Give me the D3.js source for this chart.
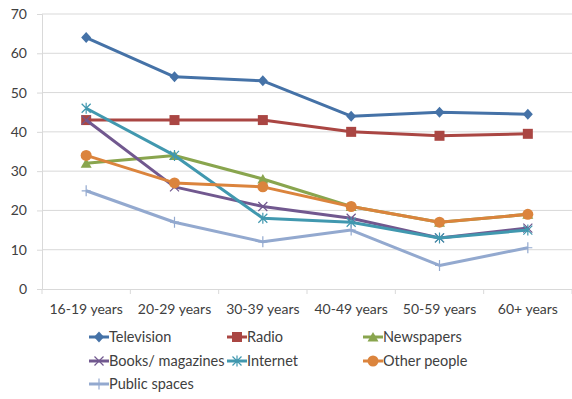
<!DOCTYPE html>
<html><head><meta charset="utf-8">
<script src="https://cdn.jsdelivr.net/npm/d3@7"></script>
<style>body{margin:0;background:#fff}svg{display:block}text{font-family:Lato,"Open Sans",sans-serif;fill:#404040}</style>
</head><body><svg id="c" width="572" height="399"></svg>
<script>
const categories = ["16-19 years","20-29 years","30-39 years","40-49 years","50-59 years","60+ years"];
const television = [64,54,53,44,45,44.5];
const radio = [43,43,43,40,39,39.5];
const newspapers = [32,34,28,21,17,19];
const books = [43,26,21,18,13,15.5];
const internet = [46,34,18,17,13,15];
const otherPeople = [34,27,26,21,17,19];
const publicSpaces = [25,17,12,15,6,10.5];
const yTicks = [0,10,20,30,40,50,60,70];

const series = [
  {name:"Television", values:television, color:"#4572A7", marker:"diamond"},
  {name:"Radio", values:radio, color:"#AA4643", marker:"square"},
  {name:"Newspapers", values:newspapers, color:"#89A54E", marker:"triangle"},
  {name:"Books/ magazines", values:books, color:"#71588F", marker:"x"},
  {name:"Internet", values:internet, color:"#4198AF", marker:"star"},
  {name:"Other people", values:otherPeople, color:"#DB843D", marker:"circle"},
  {name:"Public spaces", values:publicSpaces, color:"#93A9CF", marker:"plus"}
];

(function(){
const svg = d3.select("#c");
const pl = 42, pr = 572, pt = 14, pb = 289;
const x = d3.scaleBand().domain(categories).range([pl, pr]);
const y = d3.scaleLinear().domain([0,70]).range([pb, pt]);

svg.append("g").selectAll("line").data(yTicks.filter(d=>d>0)).join("line")
  .attr("x1", pl).attr("x2", pr).attr("y1", d=>y(d)).attr("y2", d=>y(d))
  .attr("stroke", "#D9D9D9").attr("stroke-width", 1);

const ya = svg.append("g").attr("transform", `translate(${pl},0)`)
  .call(d3.axisLeft(y).tickValues(yTicks).tickSize(5).tickPadding(10));
ya.select(".domain").attr("stroke", "#D9D9D9");
ya.selectAll(".tick line").attr("stroke", "#D9D9D9");
ya.selectAll("text").style("font-size","14px").attr("fill","#404040");

const xa = svg.append("g").attr("transform", `translate(0,${pb})`)
  .call(d3.axisBottom(x).tickSize(0).tickPadding(15));
xa.select(".domain").attr("stroke", "#D9D9D9");
xa.selectAll("text").style("font-size","14px").attr("fill","#404040");
const bounds = categories.map(c=>x(c)).concat([pr]);
svg.append("g").selectAll("line").data(bounds).join("line")
  .attr("x1", d=>d).attr("x2", d=>d).attr("y1", pb).attr("y2", pb+5)
  .attr("stroke", "#D9D9D9");

const cx = c => x(c) + x.bandwidth()/2;

function drawMarker(g, type, color, px, py) {
  if (type === "diamond") {
    g.append("path").attr("d", `M${px},${py-5.5}L${px+5},${py}L${px},${py+5.5}L${px-5},${py}Z`).attr("fill", color);
  } else if (type === "square") {
    g.append("rect").attr("x", px-5).attr("y", py-5).attr("width", 10).attr("height", 10).attr("fill", color);
  } else if (type === "triangle") {
    g.append("path").attr("d", `M${px},${py-5}L${px+5.5},${py+4.5}L${px-5.5},${py+4.5}Z`).attr("fill", color);
  } else if (type === "circle") {
    g.append("circle").attr("cx", px).attr("cy", py).attr("r", 5.5).attr("fill", color);
  } else if (type === "x") {
    g.append("path").attr("d", `M${px-4.5},${py-4.5}L${px+4.5},${py+4.5}M${px-4.5},${py+4.5}L${px+4.5},${py-4.5}`).attr("stroke", color).attr("stroke-width", 1.2);
  } else if (type === "star") {
    g.append("path").attr("d", `M${px-4.5},${py-4.5}L${px+4.5},${py+4.5}M${px-4.5},${py+4.5}L${px+4.5},${py-4.5}M${px},${py-5.5}L${px},${py+5.5}`).attr("stroke", color).attr("stroke-width", 1.2);
  } else if (type === "plus") {
    g.append("path").attr("d", `M${px},${py-5.5}L${px},${py+5.5}M${px-4.5},${py}L${px+4.5},${py}`).attr("stroke", color).attr("stroke-width", 1.2);
  }
}

const line = d3.line().x((d,i)=>cx(categories[i])).y(d=>y(d));
series.forEach(s => {
  const g = svg.append("g");
  g.append("path").datum(s.values).attr("d", line).attr("fill","none")
    .attr("stroke", s.color).attr("stroke-width", 3).attr("stroke-linejoin","round");
  s.values.forEach((v,i)=>drawMarker(g, s.marker, s.color, cx(categories[i]), y(v)));
});

const legX = [89, 227, 363];
const legY = [337, 361, 384];
series.forEach((s,i) => {
  const col = i % 3, row = Math.floor(i/3);
  const lx = legX[col], ly = legY[row];
  const g = svg.append("g");
  g.append("line").attr("x1", lx).attr("x2", lx+20).attr("y1", ly).attr("y2", ly)
    .attr("stroke", s.color).attr("stroke-width", 3);
  drawMarker(g, s.marker, s.color, lx+10, ly);
  g.append("text").attr("x", lx+20).attr("y", ly).attr("dy","0.35em")
    .style("font-size","14.5px").text(s.name);
});
})();
</script></body></html>
